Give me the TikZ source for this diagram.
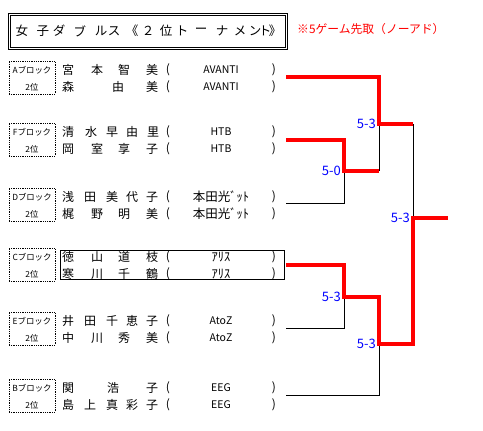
\documentclass[tikz,border=0pt]{standalone}
\usepackage{fontspec}
\setmainfont{Noto Sans CJK JP}
\definecolor{winred}{RGB}{255,0,0}
\definecolor{scoreblue}{RGB}{0,0,255}
\tikzset{
  win/.style={winred,line width=3.2pt},
  lose/.style={black,line width=0.8pt},
  score/.style={scoreblue,font=\fontsize{13}{13}\selectfont,anchor=east,inner sep=0pt,xshift=-3pt},
  kanji/.style={font=\fontsize{12}{12}\selectfont,inner sep=0pt,anchor=west},
  team/.style={font=\fontsize{10.5}{10.5}\selectfont,inner sep=0pt},
  blockbox/.style={draw,densely dotted,line width=0.8pt,minimum width=46pt,minimum height=33pt,inner sep=0pt},
  blocklbl/.style={font=\fontsize{8.4}{8.4}\selectfont,inner sep=0pt}
}
\newcommand{\kana}[1]{{\fontsize{12.5}{12.5}\selectfont #1}}
% one player line: tag, y, x/char list, team
\newcommand{\entry}[4]{%
  \foreach \px/\ch [count=\k] in {#3}
    \node[kanji] (#1-\k) at (\px,#2) {\ch};
  \node[kanji,anchor=center] (#1-l) at (168,#2) {(};
  \node[team] (#1-t) at (221,#2) {#4};
  \node[kanji,anchor=center] (#1-r) at (274,#2) {)};}
\begin{document}
\begin{tikzpicture}[x=1pt,y=-1pt]
\useasboundingbox (0,0) rectangle (483,431);
% title
\node[draw,line width=0.8pt,minimum width=279pt,minimum height=36pt,inner sep=0pt] (titleout) at (147.5,31) {};
\node[draw,line width=0.8pt,minimum width=275pt,minimum height=32pt,inner sep=0pt] (titlein) at (147.5,31) {};
\foreach \tx/\ch [count=\i] in {22/女,43/子,59/ダ,80/ブ,101/ル,114/ス,132/《,148/２,166/位,182/ト,201/ー,222/ナ,240/メ,255/ン,265/ト,275/》}
  \node[font=\fontsize{12.5}{12.5}\selectfont,inner sep=0pt] (ttl\i) at (\tx,31) {\ch};
\node[font=\fontsize{11.8}{11.8}\selectfont,text=winred,anchor=west,inner sep=0pt] (rule) at (297,29) {※5ゲーム先取（ノーアド）};
% blocks
\foreach \g/\yy in {A/70,F/132,D/197,C/257,E/321,B/388} {
  \node[blockbox] (blk\g) at (32,\yy+7.5) {};
  \node[blocklbl] (blk\g-1) at (32,\yy) {{\g}ブロック};
  \node[blocklbl] (blk\g-2) at (32,\yy+17) {2位};
}
% players
\entry{a1}{70}{62/宮,91/本,118/智,146/美}{AVANTI}
\entry{a2}{87}{62/森,112/由,146/美}{AVANTI}
\entry{f1}{132}{62/清,85/水,106/早,126/由,147/里}{HTB}
\entry{f2}{149}{62/岡,91/室,118/享,146/子}{HTB}
\entry{d1}{197}{62/浅,84/田,106/美,126/代,146/子}{\kana{本田光ﾞｯﾄ}}
\entry{d2}{214}{62/梶,91/野,118/明,146/美}{\kana{本田光ﾞｯﾄ}}
\entry{c1}{257}{62/徳,91/山,118/道,146/枝}{\kana{ｱﾘｽ}}
\entry{c2}{274}{62/寒,91/川,118/千,146/鶴}{\kana{ｱﾘｽ}}
\entry{e1}{321}{62/井,84/田,106/千,126/恵,146/子}{AtoZ}
\entry{e2}{338}{62/中,91/川,118/秀,146/美}{AtoZ}
\entry{b1}{388}{62/関,107/浩,146/子}{EEG}
\entry{b2}{405}{62/島,84/上,106/真,126/彩,146/子}{EEG}
\draw[line width=0.8pt] (60,250) rectangle (284,279);
\draw[line width=1.6pt] (60.4,250) -- (60.4,279);
% bracket
\coordinate (eA) at (286,77);
\coordinate (eF) at (286,140);
\coordinate (eD) at (286,203);
\coordinate (eC) at (286,265);
\coordinate (eE) at (286,328);
\coordinate (eB) at (286,395);
\coordinate (mFD) at (344,171);
\coordinate (mAF) at (379,124);
\coordinate (mCE) at (344,297);
\coordinate (mCB) at (379,344);
\coordinate (mF) at (413,218);
\coordinate (champ) at (448,218);
\draw[lose] (eD) -| (mFD);
\draw[lose] (mFD -| mAF) -- (mAF);
\draw[lose] (mAF -| mF) -- (mF);
\draw[lose] (eE) -| (mCE);
\draw[lose] (eB) -| (mCB);
\draw[win] (eF) -| (mFD) -- (mFD -| mAF);
\draw[win] (eA) -| (mAF) -- (mAF -| mF);
\draw[win] (eC) -| (mCE) -- (mCE -| mCB) -- (mCB) -- (mCB -| mF) -- (mF) -- (champ);
% scores
\node[score] (sFD) at (mFD) {5-0};
\node[score] (sAF) at (mAF) {5-3};
\node[score] (sCE) at (mCE) {5-3};
\node[score] (sCB) at (mCB) {5-3};
\node[score] (sF) at (mF) {5-3};
\end{tikzpicture}
\end{document}
